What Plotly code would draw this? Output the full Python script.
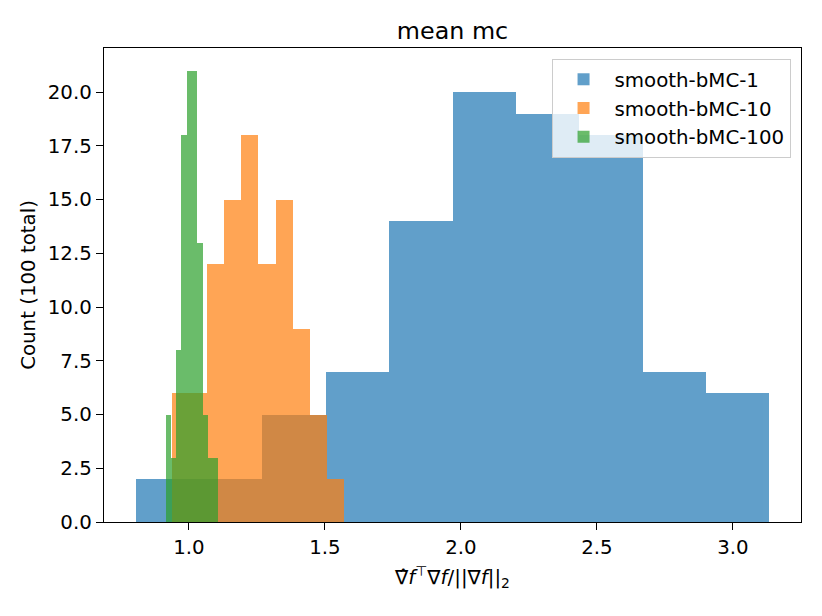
import numpy as np
import plotly.graph_objects as go

# Histogram bins: first left edge, bin width, counts per bin
series_names = ["smooth-bMC-1", "smooth-bMC-10", "smooth-bMC-100"]
bin_starts = [0.804, 0.9385, 0.9142]
bin_widths = [0.2330, 0.06333, 0.01937]

counts_bmc1 = [2, 2, 5, 7, 14, 20, 19, 18, 7, 6]
counts_bmc10 = [6, 6, 12, 15, 18, 12, 15, 9, 5, 2]
counts_bmc100 = [5, 3, 8, 18, 21, 21, 13, 5, 3, 3]

x_ticks = [1.0, 1.5, 2.0, 2.5, 3.0]
y_ticks = [0.0, 2.5, 5.0, 7.5, 10.0, 12.5, 15.0, 17.5, 20.0]

colours = ["#1f77b4", "#ff7f0e", "#2ca02c"]
all_counts = [counts_bmc1, counts_bmc10, counts_bmc100]

fig = go.Figure()
for name, start, width, counts, col in zip(series_names, bin_starts, bin_widths, all_counts, colours):
    left_edges = start + width * np.arange(len(counts))
    fig.add_trace(go.Bar(
        x=left_edges, y=counts, width=width, offset=0,
        name=name,
        marker=dict(color=col, line=dict(width=0)), opacity=0.7,
    ))

# x range with matplotlib-like 5% margins
lo = min(bin_starts)
hi = max(s + w * 10 for s, w in zip(bin_starts, bin_widths))
pad = (hi - lo) * 0.05
ymax = max(max(c) for c in all_counts) * 1.05

font = "DejaVu Sans"
fs = 19.8
axis_style = dict(
    showline=True, mirror=True, linecolor="black", linewidth=1.4,
    ticks="outside", ticklen=7, tickwidth=1.4, tickcolor="black",
    showgrid=False, zeroline=False, automargin=False,
    tickfont=dict(family=font, size=fs, color="black"),
)

# the page body adds 8px on the top and left, so the margins allow for it
fig.update_layout(
    width=822, height=616,
    margin=dict(l=96, r=29, t=40, b=102),
    plot_bgcolor="white", paper_bgcolor="white",
    barmode="overlay", bargap=0,
    title=dict(text="mean mc", x=0.5, xref="paper", y=1 - 23 / 616, yref="container",
               yanchor="middle", font=dict(family=font, size=23.8, color="black")),
    xaxis=dict(range=[lo - pad, hi + pad], tickvals=x_ticks, ticktext=[f"{v:.1f}" for v in x_ticks],
               title=dict(text="∇\u0302<i>f</i><sup>⊤</sup>∇<i>f</i>/||∇<i>f</i>||<sub>2</sub>",
                          font=dict(family=font, size=fs, color="black"), standoff=12),
               **axis_style),
    yaxis=dict(range=[0, ymax], tickvals=y_ticks, ticktext=[f"{v:.1f}" for v in y_ticks],
               title=dict(text="Count (100 total)", font=dict(family=font, size=fs, color="black"),
                          standoff=6),
               **axis_style),
    legend=dict(x=0.985, y=0.977, xanchor="right", yanchor="top",
                bgcolor="rgba(255,255,255,0.8)", bordercolor="#cccccc", borderwidth=1,
                font=dict(family=font, size=fs, color="black"), itemwidth=52),
)

fig.write_html("out.html")
